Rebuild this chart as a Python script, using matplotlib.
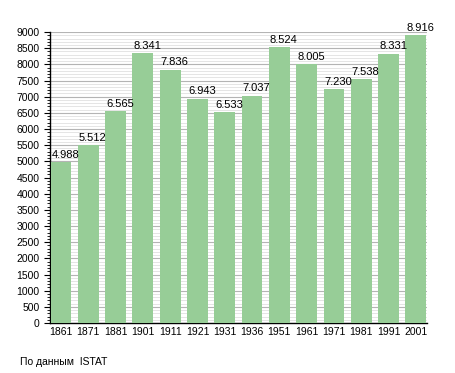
import matplotlib
matplotlib.use("Agg")
import matplotlib.pyplot as plt
import numpy as np
from matplotlib.ticker import MultipleLocator

years = ["1861", "1871", "1881", "1901", "1911", "1921", "1931",
         "1936", "1951", "1961", "1971", "1981", "1991", "2001"]
population = [4988, 5512, 6565, 8341, 7836, 6943, 6533,
              7037, 8524, 8005, 7230, 7538, 8331, 8916]
source_note = "По данным  ISTAT"

plt.rcParams["font.family"] = ["Liberation Sans", "DejaVu Sans"]

fig = plt.figure(figsize=(4.55, 3.73), dpi=100)
ax = fig.add_axes([0.110, 0.134, 0.828, 0.780])

x = np.arange(len(years))
bar_w = 0.76
ax.bar(x, population, width=bar_w, color="#97cd97", zorder=3)

# labels start at the left edge of each bar, like the original
for xi, val in zip(x, population):
    label = f"{val:,}".replace(",", ".")
    ax.text(xi - bar_w / 2 + 0.03, val + 70, label, ha="left", va="bottom",
            fontsize=8, zorder=4)

ax.set_xlim(-0.40, len(years) - 0.60)
ax.set_ylim(0, 9000)
ax.set_xticks(x)
ax.set_xticklabels(years, fontsize=7.5)
ax.tick_params(axis="x", length=0, pad=3)

ax.yaxis.set_major_locator(MultipleLocator(500))
ax.yaxis.set_minor_locator(MultipleLocator(100))
ax.tick_params(axis="y", which="major", labelsize=7.5, length=4, width=0.8)
ax.tick_params(axis="y", which="minor", length=2, width=0.6)
ax.grid(axis="y", which="major", color="#b4b4b4", linewidth=0.8, zorder=0)
ax.grid(axis="y", which="minor", color="#e0e0e0", linewidth=0.6, zorder=0)

ax.spines["top"].set_visible(False)
ax.spines["right"].set_visible(False)
ax.spines["left"].set_linewidth(1.0)
ax.spines["bottom"].set_linewidth(1.0)

fig.text(20 / 455, 1 - 362 / 373, source_note, fontsize=7.5, va="center", ha="left")

fig.savefig("out.png", dpi=100)
